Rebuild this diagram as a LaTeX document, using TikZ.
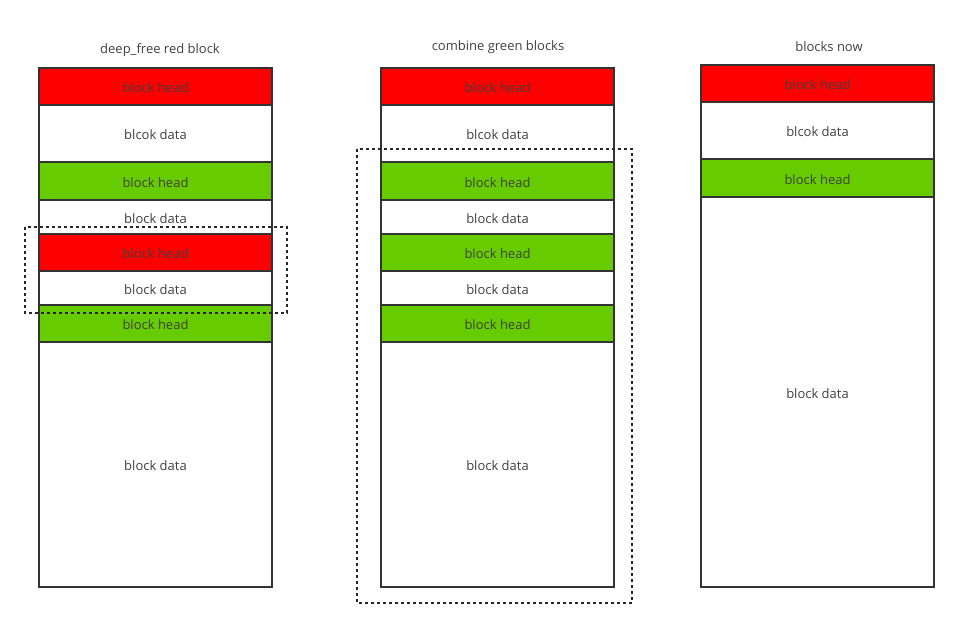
\documentclass[tikz,border=0pt]{standalone}
\usepackage{fontspec}
\setmainfont{Open Sans}
\usepackage{xcolor}
\usepackage{tikz}
\usetikzlibrary{positioning}
\definecolor{blkred}{RGB}{255,0,0}
\definecolor{blkgreen}{RGB}{102,204,0}
\definecolor{blkline}{RGB}{51,51,51}
\definecolor{blktext}{RGB}{64,64,64}
\tikzset{
  blk/.style={draw=blkline,line width=1.6pt,anchor=north west,inner sep=0pt,outer sep=0pt,
    minimum width=233pt,text=blktext,text height=12.5pt,text depth=0pt,
    font=\fontsize{13}{15}\selectfont},
  redhead/.style={blk,fill=blkred,minimum height=37pt},
  greenhead/.style={blk,fill=blkgreen,minimum height=37pt},
  datablk/.style={blk,fill=white},
  title/.style={text=blktext,font=\fontsize{13}{15}\selectfont},
  groupbox/.style={draw=black!85,line width=1.6pt,dash pattern=on 3pt off 3pt}
}
\begin{document}
\begin{tikzpicture}[x=1pt,y=-1pt]
\useasboundingbox (0,0) rectangle (958,628);
% deep_free column
\node[title] (t1) at (160,50) {deep\_free red block};
\node[redhead] (a1) at (39,68) {block head};
\node[datablk,minimum height=57pt] (a2) at (39,105) {blcok data};
\node[greenhead,minimum height=38pt] (a3) at (39,162) {block head};
\node[datablk,minimum height=34pt] (a4) at (39,200) {block data};
\node[redhead] (a5) at (39,234) {block head};
\node[datablk,minimum height=34pt] (a6) at (39,271) {block data};
\node[greenhead] (a7) at (39,305) {block head};
\node[datablk,minimum height=245pt] (a8) at (39,342) {block data};
\draw[groupbox] (25,227) rectangle (287,313);
% combine column
\node[title] (t2) at (498,47) {combine green blocks};
\node[redhead] (b1) at (381,68) {block head};
\node[datablk,minimum height=57pt] (b2) at (381,105) {blcok data};
\node[greenhead,minimum height=38pt] (b3) at (381,162) {block head};
\node[datablk,minimum height=34pt] (b4) at (381,200) {block data};
\node[greenhead] (b5) at (381,234) {block head};
\node[datablk,minimum height=34pt] (b6) at (381,271) {block data};
\node[greenhead] (b7) at (381,305) {block head};
\node[datablk,minimum height=245pt] (b8) at (381,342) {block data};
\draw[groupbox] (357,149) rectangle (632,603);
% result column
\node[title] (t3) at (829,47) {blocks now};
\node[redhead] (c1) at (701,65) {block head};
\node[datablk,minimum height=57pt] (c2) at (701,102) {blcok data};
\node[greenhead,minimum height=38pt] (c3) at (701,159) {block head};
\node[datablk,minimum height=390pt] (c4) at (701,197) {block data};
\end{tikzpicture}
\end{document}
